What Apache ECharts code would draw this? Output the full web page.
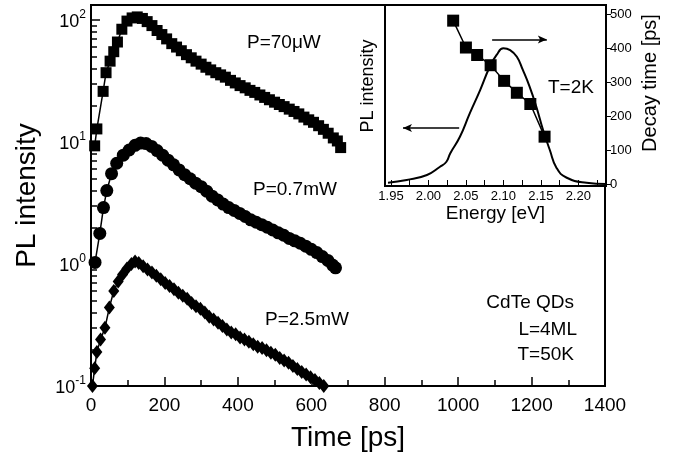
<!DOCTYPE html>
<html>
<head>
<meta charset="utf-8">
<script src="https://cdn.jsdelivr.net/npm/echarts@6/dist/echarts.min.js"></script>
<style>html,body{margin:0;padding:0;background:#fff}#c{width:675px;height:459px}</style>
</head>
<body>
<div id="c"></div>
<script>
// ---- Main panel data: time [ps] vs PL intensity ----
const t70uW = [10,16,33,41,52,62,72,84,98,112,126,140,153,166,180,193,206,220,233,246,260,273,286,300,313,326,340,353,366,380,393,406,420,433,446,460,473,486,500,513,526,540,553,566,580,593,606,620,633,646,660,671,680];
const v70uW = [9.3,12.8,26,37,46,55,66,84,98,104,106,103,97,90,82,76,70,64,60,56,52,49,46,43.5,41,39,37,35.5,34,32,30.5,29,27.8,26.5,25.5,24.3,23.2,22.2,21.2,20.3,19.5,18.6,17.8,17,16,15.2,14.5,13.6,12.7,11.8,10.8,10.2,9.0];
const t07mW = [11,24,34,43,56,70,88,104,120,135,150,165,180,195,210,225,240,255,270,285,300,315,330,345,360,375,390,405,420,435,450,465,480,495,510,525,540,555,570,585,600,615,630,645,658,666];
const v07mW = [1.03,1.78,2.9,4.0,5.5,6.7,7.8,8.6,9.4,9.8,9.7,9.2,8.5,7.8,7.1,6.5,5.9,5.4,5.0,4.6,4.3,3.95,3.6,3.35,3.1,2.9,2.75,2.6,2.45,2.3,2.2,2.1,2.0,1.9,1.8,1.72,1.62,1.55,1.48,1.4,1.32,1.24,1.15,1.07,0.98,0.93];
const t25mW = [4,10,16,26,38,50,62,74,86,98,110,120,130,142,154,166,178,190,202,214,226,238,250,262,274,286,298,310,322,334,346,358,370,382,394,406,418,430,442,454,466,478,490,502,514,526,538,550,562,574,586,598,610,622,634,642];
const v25mW = [0.1,0.14,0.19,0.24,0.30,0.44,0.6,0.72,0.82,0.92,1.0,1.05,1.02,0.96,0.9,0.85,0.8,0.75,0.7,0.66,0.62,0.58,0.55,0.52,0.48,0.45,0.43,0.40,0.37,0.35,0.33,0.31,0.29,0.275,0.265,0.25,0.24,0.23,0.22,0.21,0.205,0.196,0.187,0.18,0.17,0.162,0.155,0.146,0.138,0.13,0.124,0.118,0.112,0.106,0.1,0.095];
const xTickLabels = [0,200,400,600,800,1000,1200,1400];
const yDecades = [-1,0,1,2];
const yMinorTicks = [0.2,0.3,0.4,0.5,0.6,0.7,0.8,0.9,2,3,4,5,6,7,8,9,20,30,40,50,60,70,80,90];

// ---- Inset data ----
const specE = [1.946,1.971,1.998,2.015,2.024,2.029,2.042,2.055,2.069,2.082,2.091,2.100,2.109,2.118,2.126,2.135,2.144,2.153,2.162,2.171,2.184,2.211,2.237];
const specI = [0.018,0.033,0.061,0.105,0.134,0.18,0.272,0.40,0.53,0.66,0.724,0.761,0.751,0.714,0.641,0.549,0.438,0.309,0.199,0.10,0.047,0.018,0.011];
const decayE = [2.033,2.050,2.065,2.083,2.101,2.118,2.136,2.155];
const decayT = [482,403,381,351,305,270,237,141];
const insetXLabels = [1.95,2.00,2.05,2.10,2.15,2.20];
const insetXTicks = [1.95,1.975,2.00,2.025,2.05,2.075,2.10,2.125,2.15,2.175,2.20,2.225];
const insetYLabels = [0,100,200,300,400,500];
const arrowRight = [[2.085,0.81],[2.158,0.81]];
const arrowLeft = [[2.041,0.32],[1.966,0.32]];

const FONT = '"Liberation Sans", Arial, Helvetica, sans-serif';
const zip = (a,b) => a.map((x,i)=>[x,b[i]]);
const LOGMAX = 2.123;
const TICK = '#000';

const chart = echarts.init(document.getElementById('c'), null, {renderer:'canvas'});
const black = '#000';
const option = {
  animation: false,
  grid: [
    {left: 91, right: 70, top: 5, bottom: 73, show: true, borderColor: black, borderWidth: 2},
    {left: 385, right: 69, top: 5, bottom: 273, show: true, borderColor: black, borderWidth: 2, backgroundColor: '#fff'}
  ],
  xAxis: [
    {type:'value', gridIndex:0, min:0, max:1400, interval:200,
     axisLine:{show:true, onZero:false, lineStyle:{color:black, width:2}},
     axisTick:{show:true, inside:true, length:9, lineStyle:{color:TICK, width:1.5}},
     minorTick:{show:true, splitNumber:2, length:6, lineStyle:{color:TICK, width:1.5}},
     splitLine:{show:false},
     axisLabel:{fontSize:19, color:black, margin:10, fontFamily:FONT, formatter: v => String(v)},
     name:'Time [ps]', nameLocation:'middle', nameGap:38,
     nameTextStyle:{fontSize:28, color:black, fontFamily:FONT}},
    {type:'value', gridIndex:1, min:1.942, max:2.237,
     axisLine:{show:true, onZero:false, lineStyle:{color:black, width:2}},
     axisTick:{show:true, inside:true, length:6, lineStyle:{color:TICK, width:1}, customValues: insetXTicks},
     splitLine:{show:false},
     axisLabel:{fontSize:13, color:black, margin:4, fontFamily:FONT, customValues: insetXLabels,
       formatter: v => v.toFixed(2)},
     name:'Energy [eV]', nameLocation:'middle', nameGap:17,
     nameTextStyle:{fontSize:19, color:black, fontFamily:FONT}}
  ],
  yAxis: [
    {type:'log', logBase:10, gridIndex:0, min:0.1, max:Math.pow(10, LOGMAX),
     axisLine:{show:true, onZero:false, lineStyle:{color:black, width:2}},
     axisTick:{show:false}, axisLabel:{show:false}, splitLine:{show:false},
     name:'PL intensity', nameLocation:'middle', nameGap:50,
     nameTextStyle:{fontSize:28, color:black, fontFamily:FONT}},
    {type:'value', gridIndex:0, position:'left', min:-1, max:LOGMAX,
     axisLine:{show:false},
     axisTick:{show:true, inside:true, length:9, lineStyle:{color:TICK, width:1.5}, customValues: yDecades},
     splitLine:{show:false},
     axisLabel:{show:true, margin:5, customValues: yDecades,
       formatter: v => '{b|10}{s|' + v + '}',
       rich:{ b:{fontSize:18, fontFamily:FONT, color:black, lineHeight:22, verticalAlign:'bottom'},
              s:{fontSize:12, fontFamily:FONT, color:black, lineHeight:22, verticalAlign:'top'} }}},
    {type:'value', gridIndex:0, position:'left', min:-1, max:LOGMAX,
     axisLine:{show:false},
     axisTick:{show:true, inside:true, length:6, lineStyle:{color:TICK, width:1.5},
       customValues: yMinorTicks.map(v => Math.log10(v))},
     splitLine:{show:false}, axisLabel:{show:false}},
    {type:'value', gridIndex:1, position:'left', min:0, max:1,
     axisLine:{show:true, onZero:false, lineStyle:{color:black, width:2}},
     axisTick:{show:false}, axisLabel:{show:false}, splitLine:{show:false}},
    {type:'value', gridIndex:1, position:'right', min:-4, max:528,
     axisLine:{show:true, onZero:false, lineStyle:{color:black, width:2}},
     axisTick:{show:true, inside:false, length:5, lineStyle:{color:TICK, width:1}, customValues: insetYLabels},
     splitLine:{show:false},
     axisLabel:{fontSize:13, color:black, margin:4, fontFamily:FONT, customValues: insetYLabels}}
  ],
  series: [
    {name:'P=70uW', type:'line', xAxisIndex:0, yAxisIndex:0, data: zip(t70uW, v70uW),
     symbol:'rect', symbolSize:11, itemStyle:{color:black}, lineStyle:{color:black, width:1.5}},
    {name:'P=0.7mW', type:'line', xAxisIndex:0, yAxisIndex:0, data: zip(t07mW, v07mW),
     symbol:'circle', symbolSize:13, itemStyle:{color:black}, lineStyle:{color:black, width:1.5}},
    {name:'P=2.5mW', type:'line', xAxisIndex:0, yAxisIndex:0, data: zip(t25mW, v25mW),
     symbol:'diamond', symbolSize:[11,14], itemStyle:{color:black}, lineStyle:{color:black, width:1.5}},
    {name:'spectrum', type:'line', xAxisIndex:1, yAxisIndex:3, data: zip(specE, specI),
     smooth:true, showSymbol:false, lineStyle:{color:black, width:2},
     markLine:{silent:true, symbol:['none','arrow'], symbolSize:[6,9], label:{show:false},
       lineStyle:{color:black, width:1.5, type:'solid'},
       data:[ [{coord: arrowRight[0]}, {coord: arrowRight[1]}],
              [{coord: arrowLeft[0]}, {coord: arrowLeft[1]}] ]}},
    {name:'decay', type:'line', xAxisIndex:1, yAxisIndex:4, data: zip(decayE, decayT),
     symbol:'rect', symbolSize:12, itemStyle:{color:black}, lineStyle:{color:black, width:1.5}}
  ],
  graphic: [
    {type:'text', x:247, y:43, z:10, style:{text:'P=70\u03bcW', font:'19px ' + FONT, fill:black, align:'left', verticalAlign:'middle'}},
    {type:'text', x:253, y:190, z:10, style:{text:'P=0.7mW', font:'19px ' + FONT, fill:black, align:'left', verticalAlign:'middle'}},
    {type:'text', x:265, y:320, z:10, style:{text:'P=2.5mW', font:'19px ' + FONT, fill:black, align:'left', verticalAlign:'middle'}},
    {type:'text', x:574, y:303, z:10, style:{text:'CdTe QDs', font:'19px ' + FONT, fill:black, align:'right', verticalAlign:'middle'}},
    {type:'text', x:577, y:330, z:10, style:{text:'L=4ML', font:'19px ' + FONT, fill:black, align:'right', verticalAlign:'middle'}},
    {type:'text', x:574, y:355, z:10, style:{text:'T=50K', font:'19px ' + FONT, fill:black, align:'right', verticalAlign:'middle'}},
    {type:'text', x:548, y:88, z:10, style:{text:'T=2K', font:'19px ' + FONT, fill:black, align:'left', verticalAlign:'middle'}},
    {type:'text', x:368, y:86, rotation:Math.PI/2, z:10, style:{text:'PL intensity', font:'18px ' + FONT, fill:black, align:'center', verticalAlign:'middle'}},
    {type:'text', x:650, y:83, rotation:Math.PI/2, z:10, style:{text:'Decay time [ps]', font:'20px ' + FONT, fill:black, align:'center', verticalAlign:'middle'}}
  ]
};
chart.setOption(option);
</script>
</body>
</html>
